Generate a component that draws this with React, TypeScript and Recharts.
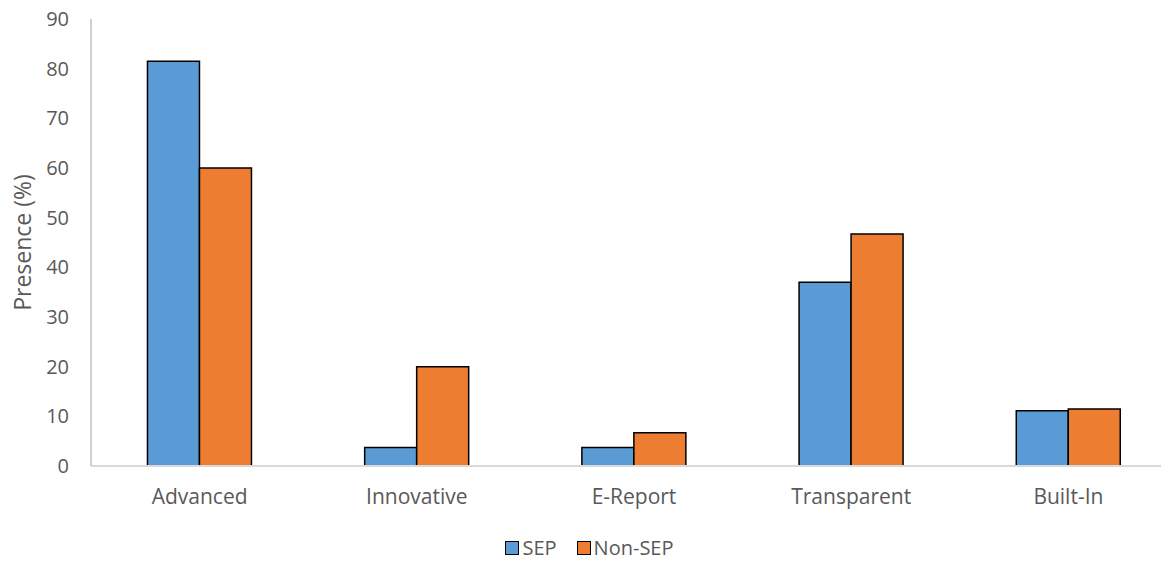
import React from 'react';
import { BarChart, Bar, XAxis, YAxis, Legend, Label } from 'recharts';

const categories = ['Advanced', 'Innovative', 'E-Report', 'Transparent', 'Built-In'];
const sepValues = [81.5, 3.7, 3.7, 37.0, 11.1];
const nonSepValues = [60.0, 20.0, 6.7, 46.7, 11.5];
const yTicks = [0, 10, 20, 30, 40, 50, 60, 70, 80, 90];

const seriesNames = { sep: 'SEP', nonSep: 'Non-SEP' };
const colors = { sep: '#5B9BD5', nonSep: '#ED7D31' };

const data = categories.map((c, i) => ({ name: c, sep: sepValues[i], nonSep: nonSepValues[i] }));

const FONT = '"Open Sans", sans-serif';

const LegendContent = () => (
  <div style={{ display: 'flex', justifyContent: 'center', alignItems: 'center', fontFamily: FONT, fontSize: 20, lineHeight: '26px', color: '#595959', paddingLeft: 2, height: 44, boxSizing: 'border-box', paddingTop: 18 }}>
    {(['sep', 'nonSep'] as const).map((k, i) => (
      <div key={k} style={{ display: 'flex', alignItems: 'center', marginLeft: i ? 20 : 0 }}>
        <span style={{ display: 'inline-block', width: 12, height: 12, background: colors[k], border: '1.5px solid #000', marginRight: 3 }} />
        <span>{seriesNames[k]}</span>
      </div>
    ))}
  </div>
);

export default function App() {
  return (
    <div style={{ marginLeft: -8, marginTop: -8, width: 1169, height: 561 }}>
      <BarChart
        width={1169}
        height={561}
        data={data}
        margin={{ top: 19, right: -8, bottom: 0, left: 0 }}
        barCategoryGap="26%"
        barGap={0}
      >
        <XAxis
          dataKey="name"
          tickLine={false}
          tickSize={0}
          tickMargin={23}
          axisLine={{ stroke: '#D9D9D9', strokeWidth: 2 }}
          tick={{ fill: '#595959', fontSize: 21, fontFamily: FONT }}
          height={51}
        />
        <YAxis
          domain={[0, 90]}
          ticks={yTicks}
          interval={0}
          tickLine={false}
          tickSize={0}
          tickMargin={22}
          width={91}
          axisLine={{ stroke: '#BFBFBF', strokeWidth: 1.5 }}
          tick={{ fill: '#595959', fontSize: 20, fontFamily: FONT }}
        >
          <Label
            content={({ viewBox }: any) => {
              const cx = (viewBox?.x ?? 0) + 22;
              const cy = (viewBox?.y ?? 0) + (viewBox?.height ?? 0) / 2;
              return (
                <text
                  x={cx}
                  y={cy}
                  transform={`rotate(-90, ${cx}, ${cy})`}
                  textAnchor="middle"
                  dominantBaseline="central"
                  fill="#595959"
                  fontSize={23}
                  fontFamily={FONT}
                >
                  Presence (%)
                </text>
              );
            }}
          />
        </YAxis>
        <Legend verticalAlign="bottom" height={44} content={<LegendContent />} wrapperStyle={{ bottom: 0 }} />
        <Bar dataKey="sep" name={seriesNames.sep} fill={colors.sep} stroke="#000" strokeWidth={1.5} isAnimationActive={false} />
        <Bar dataKey="nonSep" name={seriesNames.nonSep} fill={colors.nonSep} stroke="#000" strokeWidth={1.5} isAnimationActive={false} />
      </BarChart>
    </div>
  );
}
